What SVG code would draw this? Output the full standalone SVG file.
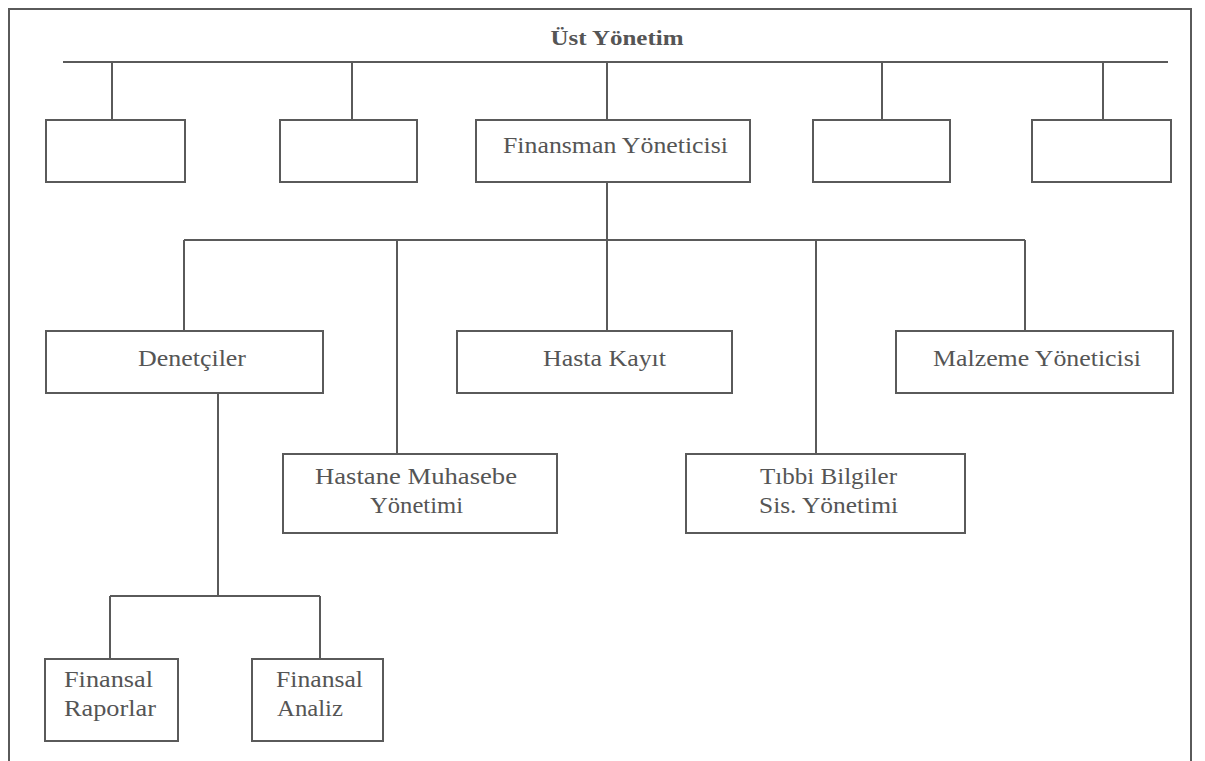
<svg xmlns="http://www.w3.org/2000/svg" width="1205" height="761" viewBox="0 0 1205 761">
<style>
.box{fill:#fff;stroke:#5a5a5a;stroke-width:2}
.ln{fill:none;stroke:#5a5a5a;stroke-width:2}
.t{font-family:"Liberation Serif","Times New Roman",serif;font-size:22.5px;fill:#555}
.c{text-anchor:middle}
.b{font-weight:bold;font-size:21px}
</style>
<rect width="1205" height="761" fill="#fff"/>
<path class="ln" d="M9,761 V9 H1191 V761"/>
<g id="connectors">
<path class="ln" d="M63,62 H1168"/>
<path class="ln" d="M112,62 V120 M352,62 V120 M607,62 V120 M882,62 V120 M1103,62 V120"/>
<path class="ln" d="M607,182 V240 M184,240 H1025 M184,240 V331 M397,240 V454 M607,240 V331 M816,240 V454 M1025,240 V331"/>
<path class="ln" d="M218,393 V596 M110,596 H320 M110,596 V659 M320,596 V659"/>
</g>
<g id="top"><text class="t c b" x="617" y="45" textLength="133" lengthAdjust="spacingAndGlyphs">Üst Yönetim</text></g>
<g id="box1"><rect class="box" x="46" y="120" width="139" height="62"/></g>
<g id="box2"><rect class="box" x="280" y="120" width="137" height="62"/></g>
<g id="finansman"><rect class="box" x="476" y="120" width="274" height="62"/><text class="t c" x="615.5" y="153" textLength="225" lengthAdjust="spacingAndGlyphs">Finansman Yöneticisi</text></g>
<g id="box4"><rect class="box" x="813" y="120" width="137" height="62"/></g>
<g id="box5"><rect class="box" x="1032" y="120" width="139" height="62"/></g>
<g id="denetciler"><rect class="box" x="46" y="331" width="277" height="62"/><text class="t c" x="192" y="366" textLength="108" lengthAdjust="spacingAndGlyphs">Denetçiler</text></g>
<g id="hastakayit"><rect class="box" x="457" y="331" width="275" height="62"/><text class="t c" x="604.5" y="366" textLength="123" lengthAdjust="spacingAndGlyphs">Hasta Kayıt</text></g>
<g id="malzeme"><rect class="box" x="896" y="331" width="277" height="62"/><text class="t c" x="1037" y="366" textLength="208" lengthAdjust="spacingAndGlyphs">Malzeme Yöneticisi</text></g>
<g id="hastane"><rect class="box" x="283" y="454" width="274" height="79"/><text class="t c" x="416" y="484" textLength="202" lengthAdjust="spacingAndGlyphs">Hastane Muhasebe</text><text class="t c" x="416.5" y="513" textLength="93" lengthAdjust="spacingAndGlyphs">Yönetimi</text></g>
<g id="tibbi"><rect class="box" x="686" y="454" width="279" height="79"/><text class="t c" x="828.5" y="484" textLength="137" lengthAdjust="spacingAndGlyphs">Tıbbi Bilgiler</text><text class="t c" x="828.5" y="513" textLength="139" lengthAdjust="spacingAndGlyphs">Sis. Yönetimi</text></g>
<g id="raporlar"><rect class="box" x="45" y="659" width="133" height="82"/><text class="t" x="64" y="687" textLength="89" lengthAdjust="spacingAndGlyphs">Finansal</text><text class="t" x="64" y="716" textLength="92" lengthAdjust="spacingAndGlyphs">Raporlar</text></g>
<g id="analiz"><rect class="box" x="252" y="659" width="131" height="82"/><text class="t" x="276" y="687" textLength="87" lengthAdjust="spacingAndGlyphs">Finansal</text><text class="t" x="277" y="716" textLength="66" lengthAdjust="spacingAndGlyphs">Analiz</text></g>
</svg>
